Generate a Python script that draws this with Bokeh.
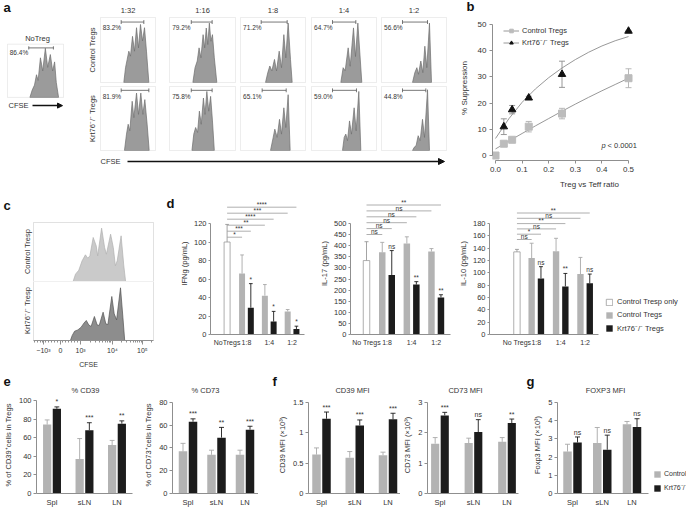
import numpy as np
from bokeh.plotting import figure
from bokeh.models import Arrow, NormalHead, FixedTicker, Legend, LegendItem, Range1d, BoxAnnotation
from bokeh.layouts import row, column
from bokeh.embed import file_html
from bokeh.resources import INLINE
from bokeh.core.properties import value

# ======================= DATA =======================
# panel a : CFSE histograms (x: % of box width, y: % of box height)
a_ratios = ["1:32", "1:16", "1:8", "1:4", "1:2"]
a_notreg_pct = "86.4%"
a_ctrl_pct = ["83.2%", "79.2%", "71.2%", "64.7%", "56.6%"]
a_ko_pct = ["81.9%", "75.8%", "65.1%", "59.0%", "44.8%"]
a_notreg_x = [40, 44.1, 48.2, 51.8, 54.7, 58.8, 62.9, 67.6, 71.8, 76.5, 80.6, 84.1, 87.1, 91.2]
a_notreg_y = [0, 13.8, 23.1, 42.6, 31.8, 74.4, 49.7, 92.3, 56.4, 80.5, 49.7, 66.7, 28.2, 0]
a_notreg_gate = [38, 82]
a_ctrl_x = [
    [42.4, 45.5, 48.5, 51.5, 54.5, 58.2, 61.8, 65.5, 69.1, 72.7, 76.4, 80, 83.6, 87.9],
    [35.4, 38.7, 42, 44.8, 47.6, 50.9, 53.3, 55.7, 58, 60.4, 62.7, 65.1, 67.9, 71.7],
    [38.5, 42, 45.1, 48.2, 52.3, 55.4, 59.5, 63.1, 66.7, 69.7, 73.3, 76.9, 79.5],
    [45.1, 48.7, 51.8, 56.4, 59.5, 64.6, 67.7, 71.3, 77.4],
    [47.7, 51.3, 54.4, 56.9, 60.5, 63.6, 66.7, 69.7, 73.8, 76.9],
]
a_ctrl_y = [
    [0, 22.8, 35.5, 48.2, 40.6, 71, 48.2, 84.3, 53.3, 89.3, 64, 84.3, 48.2, 0],
    [0, 22.8, 33, 53.3, 38, 73.6, 53.3, 83.8, 58.4, 91.4, 63.5, 73.6, 38, 0],
    [0, 15.2, 25.4, 17.8, 35.5, 17.8, 48.2, 22.8, 73.6, 38, 91.4, 35.5, 0],
    [0, 22.8, 18, 53.3, 25, 84, 40, 91.4, 0],
    [0, 15.2, 22.8, 12.7, 33, 15.2, 55.8, 22.8, 91.4, 0],
]
a_ctrl_gate = [[37.6, 78.8], [33, 64.6], [31.8, 71.8], [32.3, 68.2], [32.3, 70.8]]
a_ko_x = [
    [43.6, 47.3, 50.3, 53.3, 57.6, 60.6, 65.5, 69.1, 73.3, 77, 80.6, 84.8, 88.5],
    [34, 36.8, 39.6, 42.5, 45.3, 48.1, 51.4, 53.8, 56.6, 59.4, 62.3, 65.1, 67.9],
    [46.2, 50.3, 52.8, 56.4, 60, 63.1, 66.7, 69.7, 73.3, 76.4],
    [47.7, 50.3, 52.8, 55.4, 58.5, 61.5, 65.6, 68.7, 72.8, 75.9],
    [47.7, 50.3, 53.3, 56.4, 59.5, 63.1, 66.2, 70.8, 73.8],
]
a_ko_y = [
    [0, 25.6, 41, 30.8, 76.9, 51.3, 89.7, 56.4, 89.7, 56.4, 79.5, 41, 0],
    [0, 25.6, 35.9, 28.2, 61.5, 41, 82, 56.4, 92.3, 61.5, 84.6, 46.2, 0],
    [0, 20.5, 33.3, 20.5, 48.7, 25.6, 66.7, 35.9, 87.2, 0],
    [0, 20.5, 25.6, 15.4, 46.2, 25.6, 66.7, 30.8, 92.3, 0],
    [0, 5, 7.7, 23.1, 15.4, 48.7, 20.5, 94.9, 0],
]
a_ko_gate = [[37.6, 87.9], [33, 64.6], [33.3, 70.3], [32.3, 69.2], [32.3, 68.2]]

# panel b : % suppression
b_ctrl_x = [0, 0.03125, 0.0625, 0.125, 0.25, 0.5]
b_ctrl_y = [0, 4.5, 6, 11, 16, 29.5]
b_ctrl_err = [0, 0.6, 0.6, 2, 2, 3.6]
b_ko_x = [0.03125, 0.0625, 0.125, 0.25, 0.5]
b_ko_y = [11, 17.5, 22, 31, 47.5]
b_ko_err = [3, 1.6, 0.6, 5, 0]
b_fit_x = [0, 0.05, 0.1, 0.15, 0.2, 0.25, 0.3, 0.35, 0.4, 0.45, 0.5]
b_fit_ctrl = [2.5, 5.5, 8.4, 11.3, 14.1, 16.9, 19.6, 22.2, 24.7, 27.1, 29.5]
b_fit_ko = [6.5, 14, 20.3, 25.4, 29.7, 33.4, 36.6, 39.4, 41.8, 43.8, 45.4]

# panel c : CFSE histograms (x in display decades, y in % of box height)
c_ctrl_u = [0.42, 0.5, 0.61, 0.72, 0.83, 0.91, 0.98, 1.09, 1.19, 1.24, 1.37, 1.47, 1.53, 1.67,
            1.76, 1.83, 1.89, 2.02, 2.11, 2.17]
c_ctrl_n = [0, 12.4, 19.2, 35, 45.2, 39.5, 43.5, 74.6, 60.5, 43.5, 90.4, 57.6, 46.3, 80.2,
            57.6, 26.6, 35, 77.4, 26.6, 0]
c_ko_u = [0.33, 0.39, 0.47, 0.58, 0.69, 0.78, 0.86, 0.94, 1.02, 1.13, 1.22, 1.29, 1.42, 1.51,
          1.58, 1.71, 1.79, 1.87, 2.0, 2.08, 2.14]
c_ko_n = [0, 8.5, 15.8, 18, 22.6, 29.4, 33.9, 26.6, 23.7, 40.7, 26.6, 25.4, 48, 28.2,
          27.1, 74.6, 45.2, 35, 89.3, 39.5, 0]
c_tick_labels = ["\u221210\u00b3", "0", "10\u00b3", "10\u2074", "10\u2075"]

# panel d : cytokines
d_ratios = ["1:8", "1:4", "1:2"]
ifng_nt, ifng_nt_err = 100, 19
ifng_ctrl = [66, 42, 25]
ifng_ctrl_err = [20, 12, 2]
ifng_ko = [29, 14, 6]
ifng_ko_err = [26, 11, 3]
ifng_ko_sig = ["*", "*", "*"]
ifng_comp_sig = ["*", "***", "**", "****", "***", "****"]
il17_nt, il17_nt_err = 333, 85
il17_ctrl = [370, 410, 374]
il17_ctrl_err = [45, 30, 13]
il17_ko = [268, 225, 167]
il17_ko_err = [110, 13, 12]
il17_ko_sig = ["ns", "**", "**"]
il17_comp_sig = ["ns", "ns", "ns", "ns", "ns", "**"]
il10_nt, il10_nt_err = 134, 4
il10_ctrl = [124, 135, 98]
il10_ctrl_err = [24, 21, 27]
il10_ko = [91, 78, 83]
il10_ko_err = [19, 21, 15]
il10_ko_sig = ["ns", "**", "ns"]
il10_comp_sig = ["ns", "*", "ns", "**", "ns", "**"]

# panels e, f, g : Treg markers
tissues = ["Spl", "sLN", "LN"]
cd39_ctrl = [74, 37, 52]
cd39_ctrl_err = [5, 22, 5]
cd39_ko = [91, 68, 75]
cd39_ko_err = [2, 8, 3]
cd39_sig = ["*", "***", "**"]
cd73_ctrl = [37, 34, 34]
cd73_ctrl_err = [7, 4, 4]
cd73_ko = [63, 49, 56]
cd73_ko_err = [2.5, 9, 3]
cd73_sig = ["***", "**", "***"]
cd39mfi_ctrl = [0.64, 0.59, 0.63]
cd39mfi_ctrl_err = [0.11, 0.1, 0.05]
cd39mfi_ko = [1.23, 1.12, 1.22]
cd39mfi_ko_err = [0.11, 0.09, 0.1]
cd39mfi_sig = ["***", "***", "***"]
cd73mfi_ctrl = [1.64, 1.66, 1.7]
cd73mfi_ctrl_err = [0.2, 0.16, 0.14]
cd73mfi_ko = [2.57, 2.02, 2.32]
cd73mfi_ko_err = [0.1, 0.41, 0.13]
cd73mfi_sig = ["***", "ns", "**"]
foxp3_ctrl = [2.3, 2.77, 3.8]
foxp3_ctrl_err = [0.4, 0.85, 0.15]
foxp3_ko = [2.8, 2.4, 3.65]
foxp3_ko_err = [0.3, 0.8, 0.45]
foxp3_sig = ["ns", "ns", "ns"]

# ======================= STYLE / LAYOUT =======================
FONT = "Liberation Sans"
TXT = "#333333"
AXC = "#8f8f8f"
GRAY = "#b3b3b3"
GRAY_ERR = "#a8a8a8"
BLK = "#1c1c1c"
HIST = "#9b9b9b"
HIST_LINE = "#6f6f6f"
BOX = "#c4c4c4"
KO_LBL = "Krt76\u207b/\u207b"

SX = 1.0
SY = 1.0


def X(v):
    return int(round(v * SX))


def Y(v):
    return int(round(v * SY))


class F:
    """A figure placed at reference-pixel box (x0..x1, y0..y1) whose frame is fx0..fx1, fy0..fy1."""

    def __init__(self, x0, x1, y0, y1, xr, yr, fx0=None, fx1=None, fy0=None, fy1=None,
                 xaxis=False, yaxis=False):
        self.fx0 = x0 if fx0 is None else fx0
        self.fx1 = x1 if fx1 is None else fx1
        self.fy0 = y0 if fy0 is None else fy0
        self.fy1 = y1 if fy1 is None else fy1
        self.xr, self.yr = xr, yr
        p = figure(width=X(x1) - X(x0), height=Y(y1) - Y(y0),
                   x_range=Range1d(*xr), y_range=Range1d(*yr),
                   x_axis_type="linear" if xaxis else None,
                   y_axis_type="linear" if yaxis else None,
                   output_backend="svg", toolbar_location=None, title_location=None)
        p.min_border_left = X(self.fx0) - X(x0)
        p.min_border_right = X(x1) - X(self.fx1)
        p.min_border_top = Y(self.fy0) - Y(y0)
        p.min_border_bottom = Y(y1) - Y(self.fy1)
        p.outline_line_color = None
        p.border_fill_color = "white"
        p.background_fill_color = "white"
        if xaxis:
            p.xgrid.grid_line_color = None
        if yaxis:
            p.ygrid.grid_line_color = None
        self.p = p

    def dx(self, px):
        a, b = self.xr
        return a + (px - self.fx0) * (b - a) / (self.fx1 - self.fx0)

    def dy(self, py):
        c, d = self.yr
        return c + (self.fy1 - py) * (d - c) / (self.fy1 - self.fy0)

    def text(self, px, py, s, size=7.5, align="center", baseline="middle", angle=0.0,
             style="normal", color=TXT):
        self.p.text(x=[self.dx(px)], y=[self.dy(py)], text=[s], angle=angle,
                    text_font=value(FONT), text_font_size=f"{size}px", text_font_style=style,
                    text_align=align, text_baseline=baseline, text_color=color)


def box_ranges(x0, x1, y0, y1, bx0, bx1, by0, by1):
    xr = (-(bx0 - x0) / (bx1 - bx0) * 100, 100 + (x1 - bx1) / (bx1 - bx0) * 100)
    yr = (-(y1 - by1) / (by1 - by0) * 100, 100 + (by0 - y0) / (by1 - by0) * 100)
    return xr, yr


def style_axis(ax, size=7.5, tick_out=3, standoff=2, label=None, label_standoff=3):
    ax.axis_line_color = AXC
    ax.axis_line_width = 1
    ax.major_tick_line_color = AXC
    ax.minor_tick_line_color = None
    ax.major_tick_in = 0
    ax.major_tick_out = tick_out
    ax.major_label_text_font = FONT
    ax.major_label_text_font_size = f"{size}px"
    ax.major_label_text_color = TXT
    ax.major_label_standoff = standoff
    if label:
        ax.axis_label = label
        ax.axis_label_text_font = FONT
        ax.axis_label_text_font_size = f"{size}px"
        ax.axis_label_text_font_style = "normal"
        ax.axis_label_text_color = TXT
        ax.axis_label_standoff = label_standoff


def set_ticks(ax, ticks, labels):
    ax.ticker = FixedTicker(ticks=list(ticks))
    ax.major_label_overrides = {t: l for t, l in zip(ticks, labels)}


def errbars(p, xs, ys, es, cap, color, both=False, lw=0.9):
    xs = np.asarray(xs, float)
    ys = np.asarray(ys, float)
    es = np.asarray(es, float)
    top = ys + es
    bot = ys - es if both else ys
    p.segment(x0=xs, y0=bot, x1=xs, y1=top, line_color=color, line_width=lw)
    p.segment(x0=xs - cap, y0=top, x1=xs + cap, y1=top, line_color=color, line_width=lw)
    if both:
        p.segment(x0=xs - cap, y0=bot, x1=xs + cap, y1=bot, line_color=color, line_width=lw)


def small_text(p, xs, ys, texts, size="6.5px", align="center", baseline="bottom"):
    p.text(x=list(xs), y=list(ys), text=list(texts), text_font=value(FONT),
           text_font_size=size, text_align=align, text_baseline=baseline, text_color=TXT)


def hist_box(Fg, xs, ys, gate, pct, gy=93, fill=HIST, line=HIST_LINE):
    p = Fg.p
    p.add_layout(BoxAnnotation(left=0, right=100, bottom=0, top=100, fill_alpha=0,
                               line_color=BOX, line_width=1))
    p.patch(xs, ys, fill_color=fill, line_color=line, line_width=0.7)
    g0, g1 = gate
    p.segment(x0=[g0, g0, g1], y0=[gy, gy - 3, gy - 3], x1=[g1, g0, g1], y1=[gy, gy + 3, gy + 3],
              line_color="#555555", line_width=0.8)
    small_text(p, [4], [84], [pct], size="6.5px", align="left", baseline="middle")


# ---------------- row 1 header ----------------
H1 = F(0, 686, 0, 15, xr=(0, 686), yr=(15, 0))
H1.text(3, 7, "a", size=13, align="left", style="bold", color="#111111")
H1.text(466, 6, "b", size=13, align="left", style="bold", color="#111111")
col_boxes = [(100, 155), (169, 235), (240, 305), (311, 376), (381, 446)]
for (b0, b1), r in zip(col_boxes, a_ratios):
    H1.text((b0 + b1) / 2, 9.5, r, size=7.5)

# ---------------- panel a ----------------
xr, yr = box_ranges(0, 84, 15, 192, 7, 63, 50, 115)
A0 = F(0, 84, 15, 192, xr=xr, yr=yr)
hist_box(A0, a_notreg_x, a_notreg_y, a_notreg_gate, a_notreg_pct)
A0.text(37, 43, "NoTreg", size=7.5)
A0.text(8, 125, "CFSE", size=7.5, align="left")
A0.p.add_layout(Arrow(end=NormalHead(size=5, fill_color="#111111", line_color="#111111"),
                      x_start=A0.dx(32), y_start=A0.dy(125), x_end=A0.dx(62), y_end=A0.dy(125),
                      line_color="#111111", line_width=1.5))

fig_cols = [(84, 162), (162, 237), (237, 308), (308, 378), (378, 452)]
a_top, a_bot = [], []
for i, ((x0, x1), (b0, b1)) in enumerate(zip(fig_cols, col_boxes)):
    xr, yr = box_ranges(x0, x1, 15, 84, b0, b1, 17, 82)
    T = F(x0, x1, 15, 84, xr=xr, yr=yr)
    hist_box(T, a_ctrl_x[i], a_ctrl_y[i], a_ctrl_gate[i], a_ctrl_pct[i])
    xr, yr = box_ranges(x0, x1, 84, 152, b0, b1, 86, 150)
    B = F(x0, x1, 84, 152, xr=xr, yr=yr)
    hist_box(B, a_ko_x[i], a_ko_y[i], a_ko_gate[i], a_ko_pct[i], gy=94)
    if i == 0:
        T.text(92, 49.5, "Control Tregs", size=7.5, angle=np.pi / 2)
        B.text(92, 118, KO_LBL + " Tregs", size=7.5, angle=np.pi / 2)
    a_top.append(T.p)
    a_bot.append(B.p)

AR = F(84, 452, 152, 192, xr=(84, 452), yr=(192, 152))
AR.text(100, 161, "CFSE", size=7.5, align="left")
AR.p.add_layout(Arrow(end=NormalHead(size=6, fill_color="#111111", line_color="#111111"),
                      x_start=127, y_start=161, x_end=444, y_end=161,
                      line_color="#111111", line_width=1.6))

# ---------------- panel b ----------------
bx_ppu = 266.0
by_ppu = 2.62
BF = F(452, 686, 15, 192, xr=(-3 / bx_ppu, (686 - 495) / bx_ppu),
       yr=(-5 / by_ppu, (155 - 15) / by_ppu), fx0=492, fx1=686, fy0=15, fy1=160,
       xaxis=True, yaxis=True)
p = BF.p
lc = p.line(b_fit_x, b_fit_ctrl, line_color="#8c8c8c", line_width=0.9)
lk = p.line(b_fit_x, b_fit_ko, line_color="#8c8c8c", line_width=0.9)
errbars(p, b_ctrl_x, b_ctrl_y, b_ctrl_err, 3 / bx_ppu, "#b0b0b0", both=True)
errbars(p, b_ko_x, b_ko_y, b_ko_err, 3 / bx_ppu, "#8c8c8c", both=True)
sc = p.scatter(b_ctrl_x, b_ctrl_y, marker="square", size=7, fill_color="#bcbcbc", line_color="#bcbcbc")
sk = p.scatter(b_ko_x, b_ko_y, marker="triangle", size=7.5, fill_color="#111111", line_color="#111111")
style_axis(p.xaxis[0], size=8, tick_out=3, standoff=3, label="Treg vs Teff ratio", label_standoff=5)
style_axis(p.yaxis[0], size=8, tick_out=3, standoff=3, label="% Suppression", label_standoff=6)
bt = [0, 0.1, 0.2, 0.3, 0.4, 0.5]
set_ticks(p.xaxis[0], bt, [f"{t:.1f}" for t in bt])
set_ticks(p.yaxis[0], [0, 10, 20, 30, 40, 50], ["0", "10", "20", "30", "40", "50"])
p.xaxis[0].bounds = (0, 0.5)
p.yaxis[0].bounds = (0, 50)
leg_b = Legend(items=[LegendItem(label="Control Tregs", renderers=[lc, sc]),
                      LegendItem(label=KO_LBL + " Tregs", renderers=[lk, sk])],
               location="top_left", margin=11,
               glyph_width=16, glyph_height=9, label_height=9, label_width=10, spacing=2,
               padding=0, label_standoff=3, border_line_color=None,
               background_fill_alpha=0, label_text_font=FONT, label_text_font_size="7.5px",
               label_text_color=TXT)
p.add_layout(leg_b)
BF.text(601, 145, "p", size=7.5, align="left", style="italic")
BF.text(607, 145, "< 0.0001", size=7.5, align="left")

# ---------------- panel c ----------------
c_ppu = 30.0
c_xr = (-0.9 - 33 / c_ppu, 3.1 + (176 - 153) / c_ppu)
CT = F(0, 176, 192, 281, xr=c_xr, yr=(0, 100 + (222 - 192) / 0.59))
CT.p.add_layout(BoxAnnotation(left=-0.9, right=3.1, bottom=0, top=100, fill_alpha=0,
                              line_color="#9a9a9a", line_width=1))
CT.p.patch(c_ctrl_u, c_ctrl_n, fill_color="#cacaca", line_color="#b0b0b0", line_width=0.7)
CT.text(3, 205, "c", size=13, align="left", style="bold", color="#111111")
CT.text(166, 203, "d", size=13, align="left", style="bold", color="#111111")
CT.text(27, 251, "Control Tresp", size=7.5, angle=np.pi / 2)

CB = F(0, 176, 281, 372, xr=c_xr, yr=(0, 100), fy0=281, fy1=340, xaxis=True)
CB.p.add_layout(BoxAnnotation(left=-0.9, right=3.1, bottom=0, top=100, fill_alpha=0,
                              line_color="#9a9a9a", line_width=1))
CB.p.patch(c_ko_u, c_ko_n, fill_color="#8d8d8d", line_color="#555555", line_width=0.7)
cax = CB.p.xaxis[0]
style_axis(cax, size=7, tick_out=4, standoff=2, label="CFSE", label_standoff=4)
c_ticks = [-0.57, 0.0, 0.67, 1.73, 2.73]
c_minor = list(np.round(np.arange(-0.87, 0.67, 0.095), 3))
for d0, span in ((0.67, 1.06), (1.73, 1.0)):
    c_minor += [round(d0 + span * np.log10(k), 3) for k in range(2, 10)]
c_minor += [round(2.73 + np.log10(2), 3)]
cax.ticker = FixedTicker(ticks=c_ticks, minor_ticks=c_minor)
cax.major_label_overrides = {t: l for t, l in zip(c_ticks, c_tick_labels)}
cax.minor_tick_line_color = AXC
cax.minor_tick_out = 2
cax.minor_tick_in = 0
cax.bounds = (-0.9, 3.1)
CB.text(27, 310, KO_LBL + " Tresp", size=7.5, angle=np.pi / 2)


# ---------------- panel d ----------------
def cyto_chart(x0, x1, fx0, fx1, o_px, sp_px, white_px, top_tick, ystep,
               nt, nt_err, ctrl, ctrl_err, ko, ko_err, ko_sig, comp_sig,
               comp_base, comp_step, no_label, ylab, axis_end_px=None):
    zero, top_px, fy0 = 334.0, 223.0, 192.0
    ppu = (zero - top_px) / top_tick
    Fg = F(x0, x1, 192, 372, xr=((fx0 - o_px) / sp_px, (fx1 - o_px) / sp_px),
           yr=(0, (zero - fy0) / ppu), fx0=fx0, fx1=fx1, fy0=fy0, fy1=zero,
           xaxis=True, yaxis=True)
    p = Fg.p
    off, bw, cap = 4.75 / sp_px, 6.5 / sp_px, 2.0 / sp_px
    xw = round((white_px - o_px) / sp_px, 3)
    g = np.array([1.0, 2.0, 3.0])
    rw = p.vbar(x=[xw], top=[nt], width=bw, fill_color="white", line_color="#9a9a9a", line_width=0.8)
    rg = p.vbar(x=g - off, top=ctrl, width=bw, fill_color=GRAY, line_color=None)
    rb = p.vbar(x=g + off, top=ko, width=bw, fill_color=BLK, line_color=None)
    errbars(p, [xw], [nt], [nt_err], cap, "#9a9a9a")
    errbars(p, g - off, ctrl, ctrl_err, cap, GRAY_ERR)
    errbars(p, g + off, ko, ko_err, cap, BLK)
    small_text(p, g + off, np.add(ko, ko_err) + 1.0 / ppu, ko_sig)
    targets = np.ravel(np.column_stack([g - off, g + off]))
    levels = np.array([(zero - (comp_base - comp_step * i)) / ppu for i in range(len(comp_sig))])
    p.segment(x0=[xw] * len(targets), y0=levels, x1=targets, y1=levels,
              line_color="#9a9a9a", line_width=0.8)
    small_text(p, (xw + targets) / 2, levels - 0.8 / ppu, comp_sig, size="6.5px")
    style_axis(p.xaxis[0], size=7, tick_out=0, standoff=4)
    style_axis(p.yaxis[0], size=7.5, tick_out=2, standoff=2, label=ylab, label_standoff=2)
    p.yaxis[0].axis_label_text_font_size = "7.5px"
    set_ticks(p.xaxis[0], [xw, 1, 2, 3], [no_label] + d_ratios)
    yt = list(range(0, top_tick + 1, ystep))
    set_ticks(p.yaxis[0], yt, [str(t) for t in yt])
    p.yaxis[0].bounds = (0, top_tick)
    if axis_end_px is not None:
        p.xaxis[0].bounds = (Fg.xr[0], Fg.dx(axis_end_px))
    return Fg, rw, rg, rb


D1, _, _, _ = cyto_chart(176, 308, 202, 304, 216.25, 24.75, 220, 120, 20,
                         ifng_nt, ifng_nt_err, ifng_ctrl, ifng_ctrl_err, ifng_ko, ifng_ko_err,
                         ifng_ko_sig, ifng_comp_sig, 236.7, 6.0, "NoTregs", "IFNg (pg/mL)")
D2, _, _, _ = cyto_chart(308, 455, 350, 450, 361.9, 24.6, 366, 500, 50,
                         il17_nt, il17_nt_err, il17_ctrl, il17_ctrl_err, il17_ko, il17_ko_err,
                         il17_ko_sig, il17_comp_sig, 234, 5.9, "No Tregs", "IL-17 (pg/mL)")
D3, rw3, rg3, rb3 = cyto_chart(455, 686, 485, 686, 507.85, 24.9, 513, 180, 20,
                               il10_nt, il10_nt_err, il10_ctrl, il10_ctrl_err, il10_ko, il10_ko_err,
                               il10_ko_sig, il10_comp_sig, 239, 5.3, "No Tregs", "IL-10 (pg/mL)",
                               axis_end_px=596)
leg_d = Legend(items=[LegendItem(label="Control Tresp only", renderers=[rw3]),
                      LegendItem(label="Control Tregs", renderers=[rg3]),
                      LegendItem(label=KO_LBL + " Tregs", renderers=[rb3])],
               location=(X(601) - X(485), 1),
               glyph_width=8, glyph_height=8, label_height=9, label_width=10, spacing=4,
               padding=0, margin=0, label_standoff=4, border_line_color=None,
               background_fill_alpha=0, label_text_font=FONT, label_text_font_size="7.5px",
               label_text_color=TXT)
D3.p.add_layout(leg_d)

# ---------------- row 3 header ----------------
H3 = F(0, 686, 372, 396, xr=(0, 686), yr=(396, 372))
H3.text(3, 381, "e", size=13, align="left", style="bold", color="#111111")
H3.text(85, 390, "% CD39", size=7.5)
H3.text(205, 390, "% CD73", size=7.5)
H3.text(272, 381, "f", size=13, align="left", style="bold", color="#111111")
H3.text(352, 390, "CD39 MFI", size=7.5)
H3.text(465, 390, "CD73 MFI", size=7.5)
H3.text(526, 381, "g", size=13, align="left", style="bold", color="#111111")
H3.text(605, 390, "FOXP3 MFI", size=7.5)


# ---------------- panels e, f, g ----------------
def tissue_chart(x0, x1, fx0, fx1, g0, gsp, top_px, top_tick, yticks, ylabels,
                 ctrl, ctrl_err, ko, ko_err, sig, ylab, axis_end_px=None):
    zero, fy0 = 496.0, 396.0
    ppu = (zero - top_px) / top_tick
    Fg = F(x0, x1, 396, 509, xr=((fx0 - g0) / gsp, (fx1 - g0) / gsp), yr=(0, (zero - fy0) / ppu),
           fx0=fx0, fx1=fx1, fy0=fy0, fy1=zero, xaxis=True, yaxis=True)
    p = Fg.p
    xs = np.arange(len(ctrl), dtype=float)
    off, bw, cap = 5.0 / gsp, 8.5 / gsp, 2.5 / gsp
    rg = p.vbar(x=xs - off, top=ctrl, width=bw, fill_color=GRAY, line_color=None)
    rb = p.vbar(x=xs + off, top=ko, width=bw, fill_color=BLK, line_color=None)
    errbars(p, xs - off, ctrl, ctrl_err, cap, GRAY_ERR)
    errbars(p, xs + off, ko, ko_err, cap, BLK)
    small_text(p, xs + off, np.add(ko, ko_err) + 1.5 / ppu, sig, size="7px")
    style_axis(p.xaxis[0], size=7.5, tick_out=0, standoff=4)
    style_axis(p.yaxis[0], size=7.5, tick_out=3, standoff=2, label=ylab, label_standoff=3)
    set_ticks(p.xaxis[0], [0, 1, 2], tissues)
    set_ticks(p.yaxis[0], yticks, ylabels)
    p.yaxis[0].bounds = (0, top_tick)
    if axis_end_px is not None:
        p.xaxis[0].bounds = (Fg.xr[0], Fg.dx(axis_end_px))
    return Fg, rg, rb


E1, _, _ = tissue_chart(0, 140, 33, 132, 49, 33.5, 400, 100, [0, 20, 40, 60, 80, 100],
                        ["0", "20", "40", "60", "80", "100"],
                        cd39_ctrl, cd39_ctrl_err, cd39_ko, cd39_ko_err, cd39_sig,
                        "% of CD39\u207acells in Tregs")
E2, _, _ = tissue_chart(140, 258, 172, 258, 187.5, 28.5, 402, 80, [0, 20, 40, 60, 80],
                        ["0", "20", "40", "60", "80"],
                        cd73_ctrl, cd73_ctrl_err, cd73_ko, cd73_ko_err, cd73_sig,
                        "% of CD73\u207acells in Tregs")
F1, _, _ = tissue_chart(258, 400, 308, 400, 321, 33.25, 402, 1.5, [0, 0.5, 1, 1.5],
                        ["0", "0.5", "1", "1.5"],
                        cd39mfi_ctrl, cd39mfi_ctrl_err, cd39mfi_ko, cd39mfi_ko_err, cd39mfi_sig,
                        "CD39 MFI (\u00d710\u00b3)")
F2, _, _ = tissue_chart(400, 520, 423, 518, 436, 35, 402, 3, [0, 1, 2, 3],
                        ["0", "1", "2", "3"],
                        cd73mfi_ctrl, cd73mfi_ctrl_err, cd73mfi_ko, cd73mfi_ko_err, cd73mfi_sig,
                        "CD73 MFI (\u00d710\u00b3)")
G1, rgg, rbg = tissue_chart(520, 686, 557, 686, 572, 29.75, 402, 5, [0, 1, 2, 3, 4, 5],
                            ["0", "1", "2", "3", "4", "5"],
                            foxp3_ctrl, foxp3_ctrl_err, foxp3_ko, foxp3_ko_err, foxp3_sig,
                            "Foxp3 MFI (\u00d710\u00b3)", axis_end_px=648)
leg_g = Legend(items=[LegendItem(label="Control", renderers=[rgg]),
                      LegendItem(label=KO_LBL, renderers=[rbg])],
               location=(X(653) - X(557), 1),
               glyph_width=8, glyph_height=8, label_height=9, label_width=10, spacing=5,
               padding=0, margin=0, label_standoff=3, border_line_color=None,
               background_fill_alpha=0, label_text_font=FONT, label_text_font_size="7px",
               label_text_color=TXT)
G1.p.add_layout(leg_g)

# ---------------- assemble ----------------
row1 = column(H1.p, row(A0.p, column(row(*a_top), row(*a_bot), AR.p), BF.p))
row2 = row(column(CT.p, CB.p), D1.p, D2.p, D3.p)
row3 = column(H3.p, row(E1.p, E2.p, F1.p, F2.p, G1.p))
layout = column(row1, row2, row3)

open("out.html", "w").write(file_html(layout, INLINE))
